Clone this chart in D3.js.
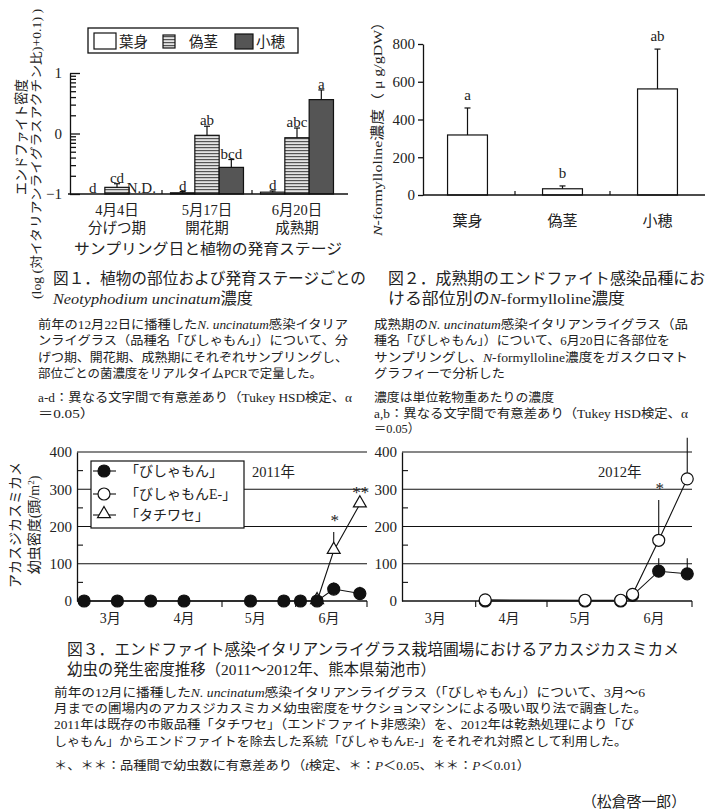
<!DOCTYPE html>
<html>
<head>
<meta charset="utf-8">
<script src="https://cdn.jsdelivr.net/npm/d3@7"></script>
<style>
  body { margin: 0; background: #fff; }
  svg { display: block; font-family: "Liberation Serif", "Noto Sans CJK JP", serif; }
  text { fill: #222; }
</style>
</head>
<body>
<div id="chart"></div>
<script>
var width = 705,
  height = 812;

// ---- Fig.1 endophyte density (log scale values)
var stages = ["4月4日", "5月17日", "6月20日"];
var stageNames = ["分げつ期", "開花期", "成熟期"];
var parts = ["葉身", "偽茎", "小穂"];
var leafDensity = [-1, -0.98, -0.97];
var leafErr = [0, 0.02, 0.02];
var stemDensity = [-0.89, -0.03, -0.07];
var stemErr = [0.06, 0.15, 0.16];
var spikeDensity = [null, -0.56, 0.56];   // null = N.D.
var spikeErr = [0, 0.13, 0.16];
var leafLetters = ["d", "d", "d"];
var stemLetters = ["cd", "ab", "abc"];
var spikeLetters = ["N.D.", "bcd", "a"];
var fig1Ticks = [-1, 0, 1];

// ---- Fig.2 N-formylloline
var lolineValues = [318, 33, 562];
var lolineErr = [143, 15, 211];
var lolineLetters = ["a", "b", "ab"];
var fig2Ticks = [0, 200, 400, 600, 800];

// ---- Fig.3 larvae density
var monthLabels = ["3月", "4月", "5月", "6月"];
var fig3Ticks = [0, 100, 200, 300, 400];
var dates2011 = ["2011-03-04", "2011-03-18", "2011-04-01", "2011-04-15", "2011-05-13", "2011-05-27", "2011-06-03", "2011-06-10", "2011-06-17", "2011-06-28"];
var bishamon2011 = [0, 0, 0, 0, 0, 0, 0, 0, 32, 20];
var bishamon2011Err = [0, 0, 0, 0, 0, 0, 0, 0, 18, 18];
var tachiwaseDates2011 = ["2011-06-10", "2011-06-17", "2011-06-28"];
var tachiwase2011 = [0, 135, 260];
var tachiwase2011Err = [0, 50, 0];
var dates2012 = ["2012-04-05", "2012-05-17", "2012-06-01", "2012-06-06", "2012-06-17", "2012-06-29"];
var bishamon2012 = [0, 0, 0, 15, 80, 73];
var bishamon2012Err = [0, 0, 0, 0, 35, 42];
var bishamonE2012 = [3, 2, 2, 18, 163, 328];
var bishamonE2012Err = [0, 0, 0, 0, 108, 110];
var sigDates2011 = ["2011-06-17", "2011-06-28"];
var sigMarks2011 = ["*", "**"];
var sigDates2012 = ["2012-06-17"];
var sigMarks2012 = ["*"];
var legend3 = ["「びしゃもん」", "「びしゃもんE-」", "「タチワセ」"];

// ---- captions (_..._ = italic)
var cap1 = ["図１．植物の部位および発育ステージごとの", "_Neotyphodium uncinatum_濃度"];
var body1 = ["前年の12月22日に播種した_N. uncinatum_感染イタリア",
  "ンライグラス（品種名「びしゃもん」）について、分",
  "げつ期、開花期、成熟期にそれぞれサンプリングし、",
  "部位ごとの菌濃度をリアルタイムPCRで定量した。"];
var note1 = ["a-d：異なる文字間で有意差あり（Tukey HSD検定、α", "＝0.05）"];
var cap2 = ["図２．成熟期のエンドファイト感染品種にお", "ける部位別の_N_-formylloline濃度"];
var body2 = ["成熟期の_N. uncinatum_感染イタリアンライグラス（品",
  "種名「びしゃもん」）について、6月20日に各部位を",
  "サンプリングし、_N_-formylloline濃度をガスクロマト",
  "グラフィーで分析した"];
var note2 = ["濃度は単位乾物重あたりの濃度", "a,b：異なる文字間で有意差あり（Tukey HSD検定、α", "＝0.05）"];
var cap3 = ["図３．エンドファイト感染イタリアンライグラス栽培圃場におけるアカスジカスミカメ",
  "幼虫の発生密度推移（2011～2012年、熊本県菊池市）"];
var body3 = ["前年の12月に播種した_N. uncinatum_感染イタリアンライグラス（「びしゃもん」）について、3月～6",
  "月までの圃場内のアカスジカスミカメ幼虫密度をサクションマシンによる吸い取り法で調査した。",
  "2011年は既存の市販品種「タチワセ」（エンドファイト非感染）を、2012年は乾熱処理により「び",
  "しゃもん」からエンドファイトを除去した系統「びしゃもんE-」をそれぞれ対照として利用した。"];
var note3 = ["＊、＊＊：品種間で幼虫数に有意差あり（_t_検定、＊：_P_＜0.05、＊＊：_P_＜0.01）"];
var author = "（松倉啓一郎）";


var svg = d3.select("#chart")
  .append("svg")
  .attr("width", width)
  .attr("height", height);

svg.append("rect").attr("width", width).attr("height", height).attr("fill", "#fff");

var defs = svg.append("defs");
var pat = defs.append("pattern")
  .attr("id", "stripe")
  .attr("patternUnits", "userSpaceOnUse")
  .attr("width", 4)
  .attr("height", 3);
pat.append("rect").attr("width", 4).attr("height", 3).attr("fill", "#e4e4e4");
pat.append("rect").attr("width", 4).attr("height", 1.2).attr("fill", "#555");

function richText(g, str, x, y, size, len) {
  var t = g.append("text")
    .attr("x", x)
    .attr("y", y)
    .style("font-size", size + "px");
  str.split("_").forEach(function (seg, i) {
    if (!seg) return;
    t.append("tspan").style("font-style", i % 2 ? "italic" : null).text(seg);
  });
  if (len) t.attr("textLength", len).attr("lengthAdjust", "spacingAndGlyphs");
  return t;
}

function block(lines, x, y0, dy, size, widths) {
  lines.forEach(function (l, i) {
    richText(svg, l, x, y0 + i * dy, size, widths ? widths[i] : null);
  });
}

function line(g, x1, y1, x2, y2, w) {
  return g.append("line")
    .attr("x1", x1).attr("y1", y1).attr("x2", x2).attr("y2", y2)
    .attr("stroke", "#111")
    .attr("stroke-width", w || 1);
}

// ================= Fig.1
drawFig1();
function drawFig1() {
  var g = svg.append("g");
  var y = d3.scaleLinear().domain([-1, 1]).range([194, 73]);
  var x0 = d3.scaleBand().domain(stages).range([72, 342]);
  var x1 = d3.scaleBand().domain(parts).range([0, x0.bandwidth()]).paddingOuter(0.35);
  var fills = { "葉身": "#fff", "偽茎": "url(#stripe)", "小穂": "#555" };
  var vals = [leafDensity, stemDensity, spikeDensity],
    errs = [leafErr, stemErr, spikeErr],
    lets = [leafLetters, stemLetters, spikeLetters];

  var bars = [];
  stages.forEach(function (s, i) {
    parts.forEach(function (p, j) {
      bars.push({ stage: s, part: p, v: vals[j][i], e: errs[j][i], letter: lets[j][i] });
    });
  });

  g.selectAll("rect.bar")
    .data(bars.filter(function (d) { return d.v !== null && d.v > -1; }))
    .enter().append("rect")
    .attr("class", "bar")
    .attr("x", function (d) { return x0(d.stage) + x1(d.part); })
    .attr("width", x1.bandwidth())
    .attr("y", function (d) { return y(d.v); })
    .attr("height", function (d) { return y(-1) - y(d.v); })
    .attr("fill", function (d) { return fills[d.part]; })
    .attr("stroke", "#111")
    .attr("stroke-width", 1.2);

  bars.forEach(function (d) {
    var cx = x0(d.stage) + x1(d.part) + x1.bandwidth() / 2;
    if (d.v !== null && d.e > 0) {
      line(g, cx, y(d.v), cx, y(d.v + d.e), 1.2);
      line(g, cx - 3, y(d.v + d.e), cx + 3, y(d.v + d.e), 1.2);
    }
    var top = d.v === null ? -1 : d.v + d.e;
    g.append("text")
      .attr("x", cx)
      .attr("y", y(top) - 1)
      .attr("text-anchor", "middle")
      .style("font-size", "15px")
      .text(d.letter);
  });

  // axes
  var minor = [];
  [-1, 0].forEach(function (dec) {
    d3.range(2, 10).forEach(function (k) { minor.push(dec + Math.log10(k)); });
  });
  var yAxis = g.append("g").attr("transform", "translate(70,0)")
    .call(d3.axisLeft(y).tickValues(fig1Ticks).tickSize(-10).tickPadding(8).tickSizeOuter(0).tickFormat(d3.format("d")));
  g.append("g").attr("transform", "translate(70,0)")
    .call(d3.axisLeft(y).tickValues(minor).tickSize(-6).tickSizeOuter(0).tickFormat(""))
    .select(".domain").remove();
  yAxis.selectAll("text").style("font-size", "15px").attr("fill", "#222").style("font-family", "Liberation Serif");
  g.selectAll(".domain, .tick line").attr("stroke", "#111").attr("stroke-width", 1.3);

  line(g, 68, y(-1), 348, y(-1), 1.3);
  x0.domain().slice(1).forEach(function (s) {
    line(g, x0(s), y(-1), x0(s), y(-1) - 4, 1.2);
  });

  stages.forEach(function (s, i) {
    var cx = x0(s) + x0.bandwidth() / 2;
    g.append("text").attr("x", cx).attr("y", 215).attr("text-anchor", "middle")
      .style("font-size", "14.5px").text(s);
    g.append("text").attr("x", cx).attr("y", 233).attr("text-anchor", "middle")
      .style("font-size", "14.5px").text(stageNames[i]);
  });
  g.append("text").attr("x", 208).attr("y", 254).attr("text-anchor", "middle")
    .style("font-size", "15px").attr("textLength", 268).attr("lengthAdjust", "spacingAndGlyphs")
    .text("サンプリング日と植物の発育ステージ");

  g.append("text").attr("transform", "translate(26,137) rotate(-90)").attr("text-anchor", "middle")
    .style("font-size", "14px").attr("textLength", 116).attr("lengthAdjust", "spacingAndGlyphs")
    .text("エンドファイト密度");
  g.append("text").attr("transform", "translate(41,154) rotate(-90)").attr("text-anchor", "middle")
    .style("font-size", "12.5px").attr("textLength", 290).attr("lengthAdjust", "spacingAndGlyphs")
    .text("(log (対イタリアンライグラスアクチン比)+0.1) )");

  // legend
  var lg = g.append("g");
  lg.append("rect").attr("x", 88).attr("y", 28).attr("width", 210).attr("height", 25)
    .attr("fill", "#fff").attr("stroke", "#111").attr("stroke-width", 1.3);
  var sw = [[94, 33, 22, 16], [163, 35, 12, 13], [235, 34, 18, 15]];
  var tx = [119, 189, 256];
  parts.forEach(function (p, i) {
    lg.append("rect").attr("x", sw[i][0]).attr("y", sw[i][1]).attr("width", sw[i][2]).attr("height", sw[i][3])
      .attr("fill", fills[p]).attr("stroke", "#111").attr("stroke-width", 1.2);
    lg.append("text").attr("x", tx[i]).attr("y", 47).style("font-size", "14.5px").text(p);
  });
}

// ================= Fig.2
drawFig2();
function drawFig2() {
  var g = svg.append("g");
  var y = d3.scaleLinear().domain([0, 800]).range([195, 44]);
  var x = d3.scaleBand().domain(parts).range([420, 705]).paddingInner(0.58).paddingOuter(0.29);

  g.selectAll("rect")
    .data(parts)
    .enter().append("rect")
    .attr("x", function (d) { return x(d); })
    .attr("width", x.bandwidth())
    .attr("y", function (d, i) { return y(lolineValues[i]); })
    .attr("height", function (d, i) { return y(0) - y(lolineValues[i]); })
    .attr("fill", "#fff")
    .attr("stroke", "#111")
    .attr("stroke-width", 1.2);

  parts.forEach(function (p, i) {
    var cx = x(p) + x.bandwidth() / 2,
      top = lolineValues[i] + lolineErr[i];
    line(g, cx, y(lolineValues[i]), cx, y(top), 1.2);
    line(g, cx - 3, y(top), cx + 3, y(top), 1.2);
    g.append("text").attr("x", cx).attr("y", y(top) - 8).attr("text-anchor", "middle")
      .style("font-size", "15px").text(lolineLetters[i]);
    g.append("text").attr("x", cx).attr("y", 226).attr("text-anchor", "middle")
      .style("font-size", "15px").text(p);
  });

  var ax = g.append("g").attr("transform", "translate(423,0)")
    .call(d3.axisLeft(y).tickValues(fig2Ticks).tickSize(5).tickPadding(3).tickSizeOuter(0));
  ax.selectAll("text").style("font-size", "15px").attr("fill", "#222").style("font-family", "Liberation Serif");
  ax.selectAll(".domain, .tick line").attr("stroke", "#111").attr("stroke-width", 1.3);
  line(g, 423, y(0), 705, y(0), 1.3);
  x.domain().slice(1).forEach(function (p) {
    var bx = x(p) - x.step() * x.paddingInner() / 2;
    line(g, bx, y(0), bx, y(0) - 4, 1.2);
  });

  richText(g, "_N_-formylloline濃度（ μ g/gDW）", 0, 0, 13.5, 222)
    .attr("transform", "translate(382,125) rotate(-90)")
    .attr("text-anchor", "middle");
}

// ================= Fig.3
drawFig3();
function drawFig3() {
  var g = svg.append("g");
  var parse = d3.timeParse("%Y-%m-%d");
  var y = d3.scaleLinear().domain([0, 400]).range([601, 452]);
  var tri = d3.symbol().type(d3.symbolTriangle).size(72);

  var panels = [
    {
      x: d3.scaleTime().domain([parse("2011-03-01"), parse("2011-07-01")]).range([77, 367]),
      year: "2011年",
      series: [
        { dates: tachiwaseDates2011, v: tachiwase2011, e: tachiwase2011Err, mark: "tri" },
        { dates: dates2011, v: bishamon2011, e: bishamon2011Err, mark: "filled" }
      ],
      sigDates: sigDates2011, sigMarks: sigMarks2011
    },
    {
      x: d3.scaleTime().domain([parse("2012-03-01"), parse("2012-07-01")]).range([402, 692]),
      year: "2012年",
      series: [
        { dates: dates2012, v: bishamon2012, e: bishamon2012Err, mark: "filled" },
        { dates: dates2012, v: bishamonE2012, e: bishamonE2012Err, mark: "open" }
      ],
      sigDates: sigDates2012, sigMarks: sigMarks2012
    }
  ];

  panels.forEach(function (p) {
    var x = p.x,
      r = x.range(),
      pg = g.append("g");

    // grid + axes
    [100, 200, 300, 400].forEach(function (v) { line(pg, r[0], y(v), r[1], y(v), 1.2); });
    var ax = pg.append("g").attr("transform", "translate(" + r[0] + ",0)")
      .call(d3.axisLeft(y).tickValues(fig3Ticks).tickSize(0).tickPadding(5).tickSizeOuter(0));
    ax.selectAll("text").style("font-size", "15px").attr("fill", "#222").style("font-family", "Liberation Serif");
    ax.select(".domain").attr("stroke", "#111").attr("stroke-width", 1.3);
    [50, 150, 250, 350].forEach(function (v) { line(pg, r[0], y(v), r[0] + 6, y(v), 1.1); });
    line(pg, r[0], y(0), r[1], y(0), 1.3);

    var dom = x.domain();
    d3.timeMonth.range(d3.timeMonth.offset(dom[0], 1), d3.timeDay.offset(dom[1], 1)).forEach(function (m) {
      line(pg, x(m), y(0), x(m), y(0) + 6, 1.1);
    });
    d3.timeMonth.range(dom[0], dom[1]).forEach(function (m, i) {
      pg.append("text")
        .attr("x", x(d3.timeDay.offset(m, 14)))
        .attr("y", 623)
        .attr("text-anchor", "middle")
        .style("font-size", "14px")
        .text(monthLabels[i]);
    });

    pg.append("text")
      .attr("x", r[0] + 175 + (p.year === "2012年" ? 21 : 0))
      .attr("y", 477)
      .style("font-size", "14.5px")
      .text(p.year);

    // series
    var pts = p.series.map(function (s) {
      return s.dates.map(function (d, i) {
        return { x: x(parse(d)), v: s.v[i], e: s.e[i], date: d };
      });
    });
    var lineGen = d3.line().x(function (d) { return d.x; }).y(function (d) { return y(d.v); });
    pts.forEach(function (arr) {
      pg.append("path").attr("d", lineGen(arr)).attr("fill", "none").attr("stroke", "#111").attr("stroke-width", 1.1);
      arr.forEach(function (d) {
        if (d.e > 0) line(pg, d.x, y(d.v), d.x, y(d.v + d.e), 1.1);
      });
    });
    p.series.forEach(function (s, k) {
      pts[k].forEach(function (d) {
        if (s.mark === "tri") {
          pg.append("path").attr("d", tri)
            .attr("transform", "translate(" + d.x + "," + (y(d.v) - 1) + ")")
            .attr("fill", "#fff").attr("stroke", "#111").attr("stroke-width", 1.2);
        } else {
          pg.append("circle").attr("cx", d.x).attr("cy", y(d.v)).attr("r", 6)
            .attr("fill", s.mark === "filled" ? "#111" : "#fff")
            .attr("stroke", "#111").attr("stroke-width", 1.2);
        }
      });
    });

    // significance marks
    p.sigDates.forEach(function (sd, i) {
      var top = d3.max(pts, function (arr) {
        var f = arr.find(function (d) { return d.date === sd; });
        return f ? f.v + f.e : 0;
      });
      pg.append("text")
        .attr("x", x(parse(sd)) + 1)
        .attr("y", y(top) - 6)
        .attr("text-anchor", "middle")
        .style("font-size", "17px")
        .text(p.sigMarks[i]);
    });
  });

  // legend (2011 panel)
  var lg = g.append("g");
  lg.append("rect").attr("x", 91).attr("y", 461).attr("width", 153).attr("height", 67)
    .attr("fill", "#fff").attr("stroke", "#111").attr("stroke-width", 1.2);
  var marks = ["filled", "open", "tri"];
  legend3.forEach(function (t, i) {
    var ly = [471, 494, 515][i];
    line(lg, 93, ly, 116, ly, 1.1);
    if (marks[i] === "tri") {
      lg.append("path").attr("d", tri).attr("transform", "translate(104," + (ly - 1) + ")")
        .attr("fill", "#fff").attr("stroke", "#111").attr("stroke-width", 1.2);
    } else {
      lg.append("circle").attr("cx", 104).attr("cy", ly).attr("r", 6)
        .attr("fill", marks[i] === "filled" ? "#111" : "#fff")
        .attr("stroke", "#111").attr("stroke-width", 1.2);
    }
    lg.append("text").attr("x", 125).attr("y", ly + 5).style("font-size", "14px").text(t);
  });

  g.append("text").attr("transform", "translate(20,525) rotate(-90)").attr("text-anchor", "middle")
    .style("font-size", "14px").attr("textLength", 126).attr("lengthAdjust", "spacingAndGlyphs")
    .text("アカスジカスミカメ");
  var yt = g.append("text").attr("transform", "translate(39,525) rotate(-90)").attr("text-anchor", "middle")
    .style("font-size", "14px");
  yt.append("tspan").text("幼虫密度(頭/m");
  yt.append("tspan").attr("dy", -5).style("font-size", "9px").text("2");
  yt.append("tspan").attr("dy", 5).text(")");
}

// ================= captions
block(cap1, 53, 284, 20, 15.5, [313, 200]);
block(body1, 38, 329, 16.3, 12.5, [310, 310, 310, 284]);
block(note1, 38, 402, 15.5, 12.5, [314, 57]);
block(cap2, 388, 284, 20, 15.5, [317, 237]);
block(body2, 374, 329, 16.3, 12.5, [314, 296, 314, 131]);
block(note2, 374, 402, 15.5, 12.5, [180, 314, 46]);
block(cap3, 67, 655, 20, 15.5, [612, 369]);
block(body3, 54, 697, 16.2, 12.5, [591, 593, 580, 573]);
block(note3, 54, 770, 16, 12.5, [476]);
richText(svg, author, 582, 807, 15, 104);
</script>
</body>
</html>
